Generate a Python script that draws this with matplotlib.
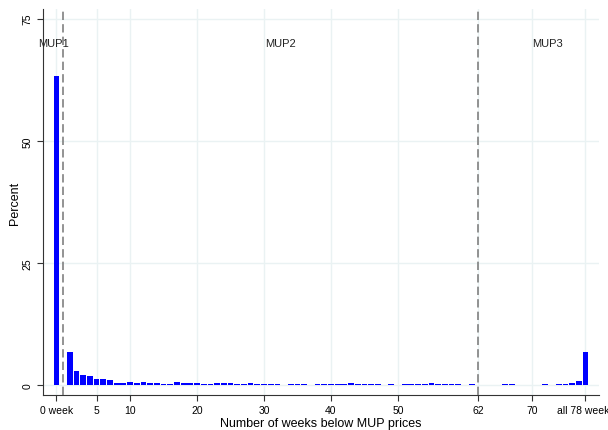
import matplotlib.pyplot as plt

# weeks below MUP price (0 drawn at position -1), percent of observations
weeks = [0, 1, 2, 3, 4, 5, 6, 7, 8, 9, 10, 11, 12, 13, 14, 15, 16, 17, 18, 19,
         20, 21, 22, 23, 24, 25, 26, 27, 28, 29, 30, 31, 32, 34, 35, 36, 38, 39,
         40, 41, 42, 43, 44, 45, 46, 47, 49, 51, 52, 53, 54, 55, 56, 57, 58, 59,
         61, 66, 67, 72, 74, 75, 76, 77, 78]
percent = [63.2, 6.7, 2.9, 2.1, 1.9, 1.35, 1.2, 1.0, 0.5, 0.5, 0.6, 0.5, 0.6, 0.55,
           0.4, 0.35, 0.35, 0.6, 0.45, 0.4, 0.45, 0.35, 0.2, 0.5, 0.5, 0.4, 0.3,
           0.3, 0.4, 0.35, 0.35, 0.35, 0.35, 0.3, 0.35, 0.35, 0.3, 0.3, 0.35, 0.35,
           0.3, 0.45, 0.35, 0.3, 0.35, 0.3, 0.3, 0.3, 0.3, 0.3, 0.3, 0.4, 0.3,
           0.3, 0.3, 0.3, 0.3, 0.3, 0.3, 0.3, 0.3, 0.25, 0.45, 0.8, 6.7]

tick_pos = [-1, 5, 10, 20, 30, 40, 50, 62, 70, 78]
tick_labels = ['0 week', '5', '10', '20', '30', '40', '50', '62', '70', 'all 78 weeks']
y_ticks = [0, 25, 50, 75]

phase_lines = [0, 62]
phase_names = ['MUP1', 'MUP2', 'MUP3']
phase_x = [-1.5, 32.5, 72.3]

plt.rcParams['font.family'] = ['Liberation Sans', 'DejaVu Sans']

fig = plt.figure(figsize=(6.08, 4.31), dpi=100)
ax = fig.add_axes([0.0707, 0.0812, 0.9143, 0.8958])

xpos = [-1 if w == 0 else w for w in weeks]
ax.bar(xpos, percent, width=0.86, color='#0000ff', linewidth=0, zorder=3)

for x in phase_lines:
    ax.axvline(x, color='#808080', linewidth=1.2, dashes=(5, 2.5), zorder=4)
for name, x in zip(phase_names, phase_x):
    ax.text(x, 70, name, ha='center', va='center', fontsize=8, color='#222222')

ax.set_xlim(-3, 80)
ax.set_ylim(-2, 77)
ax.set_xticks(tick_pos)
ax.set_xticklabels(tick_labels, fontsize=7.5)
ax.set_yticks(y_ticks)
ax.set_yticklabels([str(v) for v in y_ticks], fontsize=7.5, rotation=90, va='center')
ax.tick_params(direction='out', length=4, width=0.8, color='#333333')

ax.grid(True, color='#eaf2f3', linewidth=1, zorder=0)
ax.set_axisbelow(True)
for s in ['top', 'right']:
    ax.spines[s].set_visible(False)
for s in ['left', 'bottom']:
    ax.spines[s].set_color('#333333')
    ax.spines[s].set_linewidth(0.8)

ax.set_xlabel('Number of weeks below MUP prices', fontsize=9, labelpad=1)
ax.set_ylabel('Percent', fontsize=9, labelpad=1)

plt.savefig('out.png', dpi=100)
